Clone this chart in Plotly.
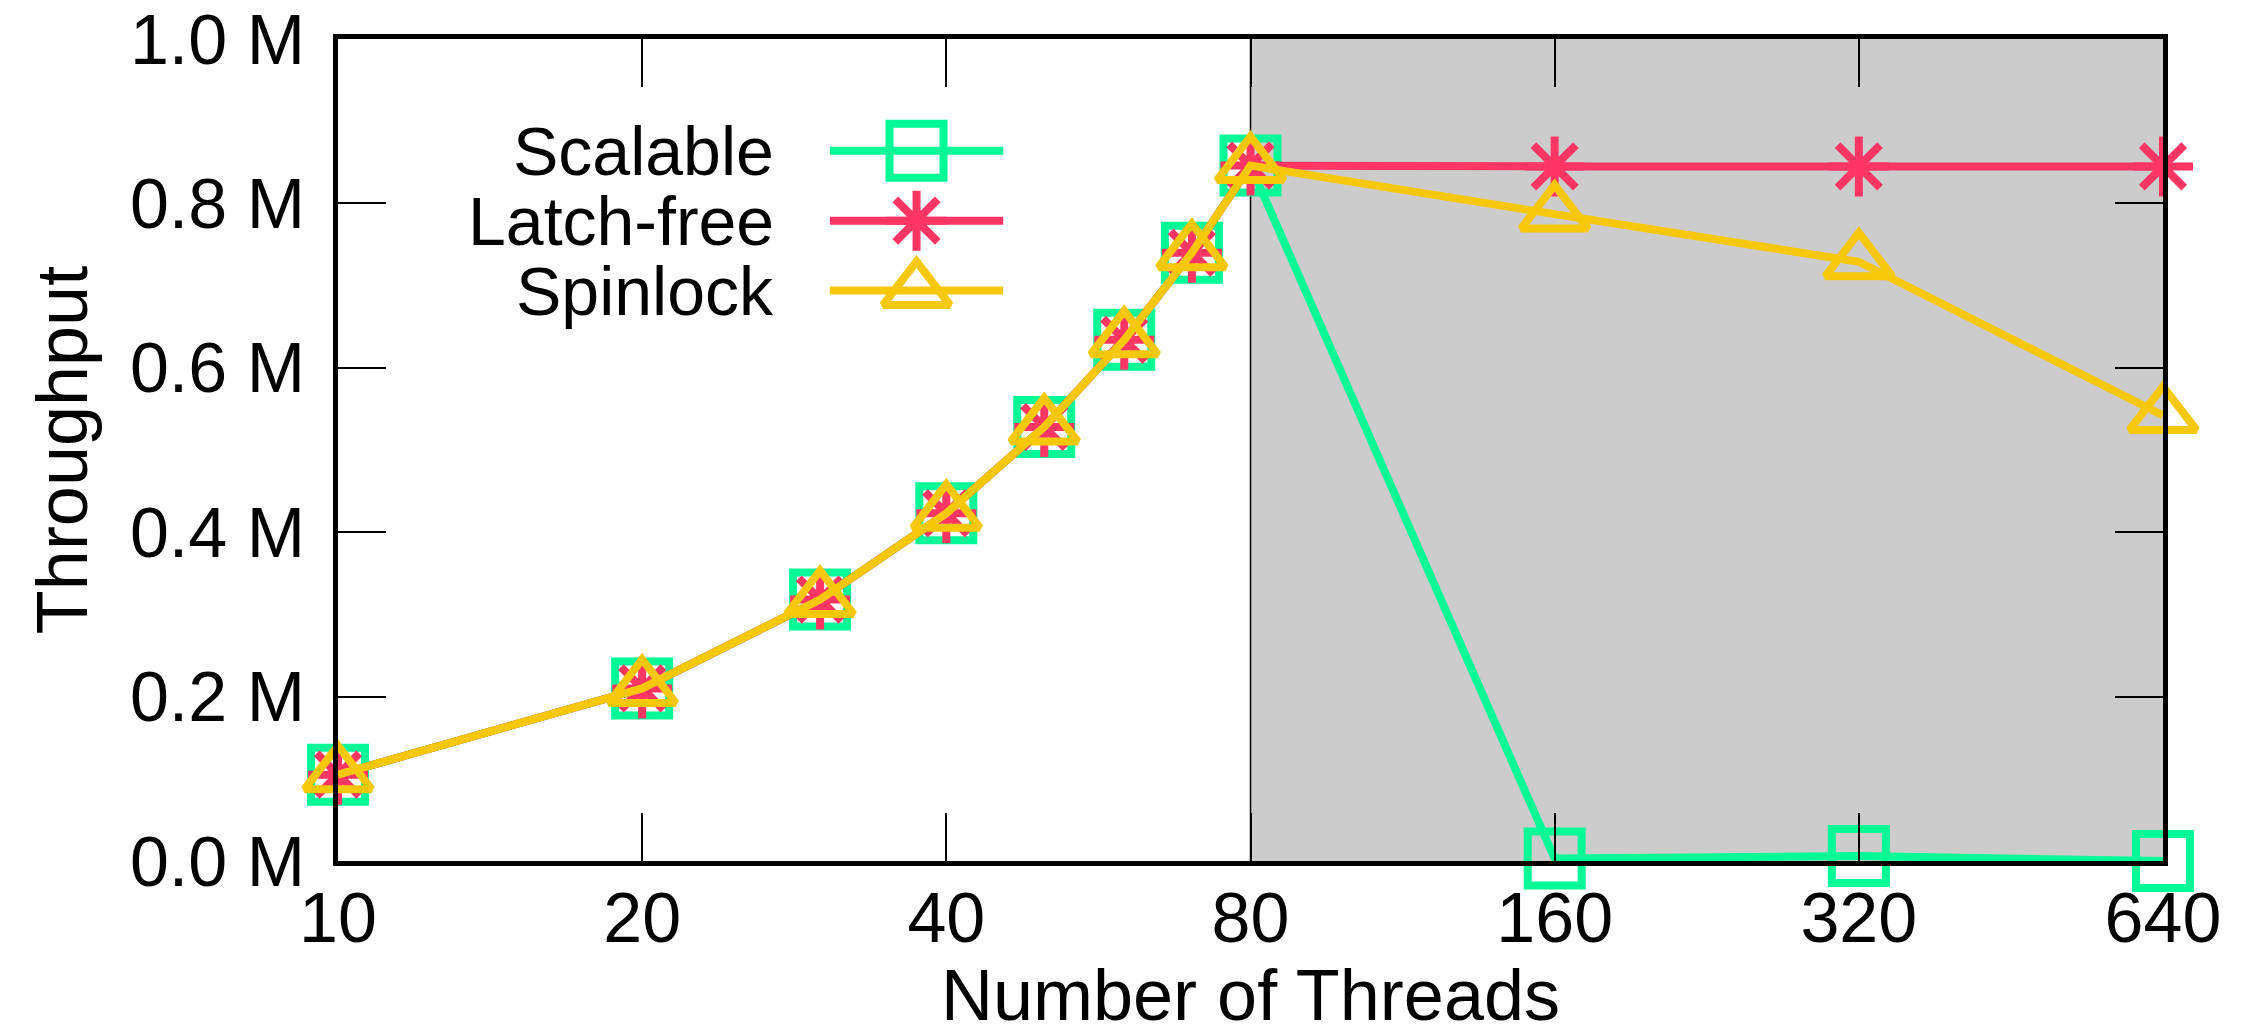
import plotly.graph_objects as go

# ---- data ----
threads = [10, 20, 30, 40, 50, 60, 70, 80, 160, 320, 640]
scalable = [0.105, 0.21, 0.318, 0.423, 0.528, 0.634, 0.740, 0.846, 0.003, 0.006, 0.0]
latch_free = [0.105, 0.21, 0.318, 0.423, 0.528, 0.634, 0.740, 0.846, 0.845, 0.845, 0.845]
spinlock = [0.105, 0.21, 0.318, 0.423, 0.528, 0.634, 0.740, 0.846, 0.787, 0.729, 0.542]
series_names = ["Scalable", "Latch-free", "Spinlock"]

x_tickvals = [10, 20, 40, 80, 160, 320, 640]
x_ticktext = ["10", "20", "40", "80", "160", "320", "640"]
y_tickvals = [0.0, 0.2, 0.4, 0.6, 0.8, 1.0]
y_ticktext = ["0.0 M", "0.2 M", "0.4 M", "0.6 M", "0.8 M", "1.0 M"]
shade_from, shade_to = 80, 640

# ---- styles ----
colors = ["#00FA96", "#FF3663", "#F7C80A"]
symbols = ["square-open", "asterisk-open", "triangle-up-open"]
msizes = [54, 50, 58]
FONT = "Liberation Sans, Arial, sans-serif"
LW = 8

fig = go.Figure()
ys = [scalable, latch_free, spinlock]
for name, y, c, s, ms in zip(series_names, ys, colors, symbols, msizes):
    fig.add_trace(go.Scatter(
        x=threads, y=y, name=name, mode="lines+markers",
        line=dict(color=c, width=LW),
        marker=dict(symbol=s, size=ms, color=c, line=dict(color=c, width=8)),
        cliponaxis=False, showlegend=False,
    ))

# custom gnuplot-style legend (text left, sample right)
leg_x0, leg_x1, leg_xm = 0.2695, 0.3645, 0.317
leg_rows = [0.864, 0.779, 0.694]
leg_text_x = 0.240
for name, c, s, ms, ry in zip(series_names, colors, symbols, msizes, leg_rows):
    fig.add_trace(go.Scatter(
        x=[leg_xm], y=[ry], mode="markers", xaxis="x2", yaxis="y2",
        marker=dict(symbol=s, size=ms, color=c, line=dict(color=c, width=8)),
        showlegend=False, hoverinfo="skip", cliponaxis=False,
    ))
    fig.add_trace(go.Scatter(
        x=[leg_x0, leg_x1], y=[ry, ry], mode="lines", xaxis="x2", yaxis="y2",
        line=dict(color=c, width=LW), showlegend=False, hoverinfo="skip",
    ))
    fig.add_annotation(
        x=leg_text_x, y=ry, xref="paper", yref="paper", text=name,
        showarrow=False, xanchor="right", yanchor="middle",
        font=dict(family=FONT, size=68, color="black"),
    )

# shaded region and separator
fig.add_shape(type="rect", xref="x", yref="paper", x0=shade_from, x1=shade_to,
              y0=0, y1=1, fillcolor="#CCCCCC", line=dict(width=0), layer="below")
fig.add_shape(type="line", xref="x", yref="paper", x0=shade_from, x1=shade_from,
              y0=0, y1=1, line=dict(color="black", width=1.5), layer="below")

fig.update_layout(
    width=2250, height=1035,
    margin=dict(l=338, r=87, t=39, b=174, autoexpand=False),
    paper_bgcolor="white", plot_bgcolor="white",
    font=dict(family=FONT, size=70, color="black"),
    xaxis=dict(
        type="log", range=[1, 2.80618],
        tickvals=x_tickvals, ticktext=x_ticktext,
        ticks="inside", ticklen=48, tickwidth=2, tickcolor="black",
        showline=True, linewidth=5, linecolor="black", mirror="ticks",
        showgrid=False, zeroline=False, automargin=False,
        tickfont=dict(family=FONT, size=70),
        ticklabelstandoff=-8, ticklabeloverflow="allow",
        title=dict(text="Number of Threads", font=dict(family=FONT, size=72), standoff=14),
    ),
    yaxis=dict(
        range=[0, 1],
        tickvals=y_tickvals, ticktext=y_ticktext,
        ticks="inside", ticklen=48, tickwidth=2, tickcolor="black",
        showline=True, linewidth=5, linecolor="black", mirror="ticks",
        showgrid=False, zeroline=False, automargin=False,
        tickfont=dict(family=FONT, size=70),
        ticklabelstandoff=14, ticklabeloverflow="allow",
        title=dict(text="Throughput", font=dict(family=FONT, size=72), standoff=20),
    ),
    xaxis2=dict(overlaying="x", range=[0, 1], visible=False, showgrid=False, zeroline=False),
    yaxis2=dict(overlaying="y", range=[0, 1], visible=False, showgrid=False, zeroline=False),
)

fig.write_html("out.html", config={"displayModeBar": False},
               post_script="document.body.style.margin='0';")
